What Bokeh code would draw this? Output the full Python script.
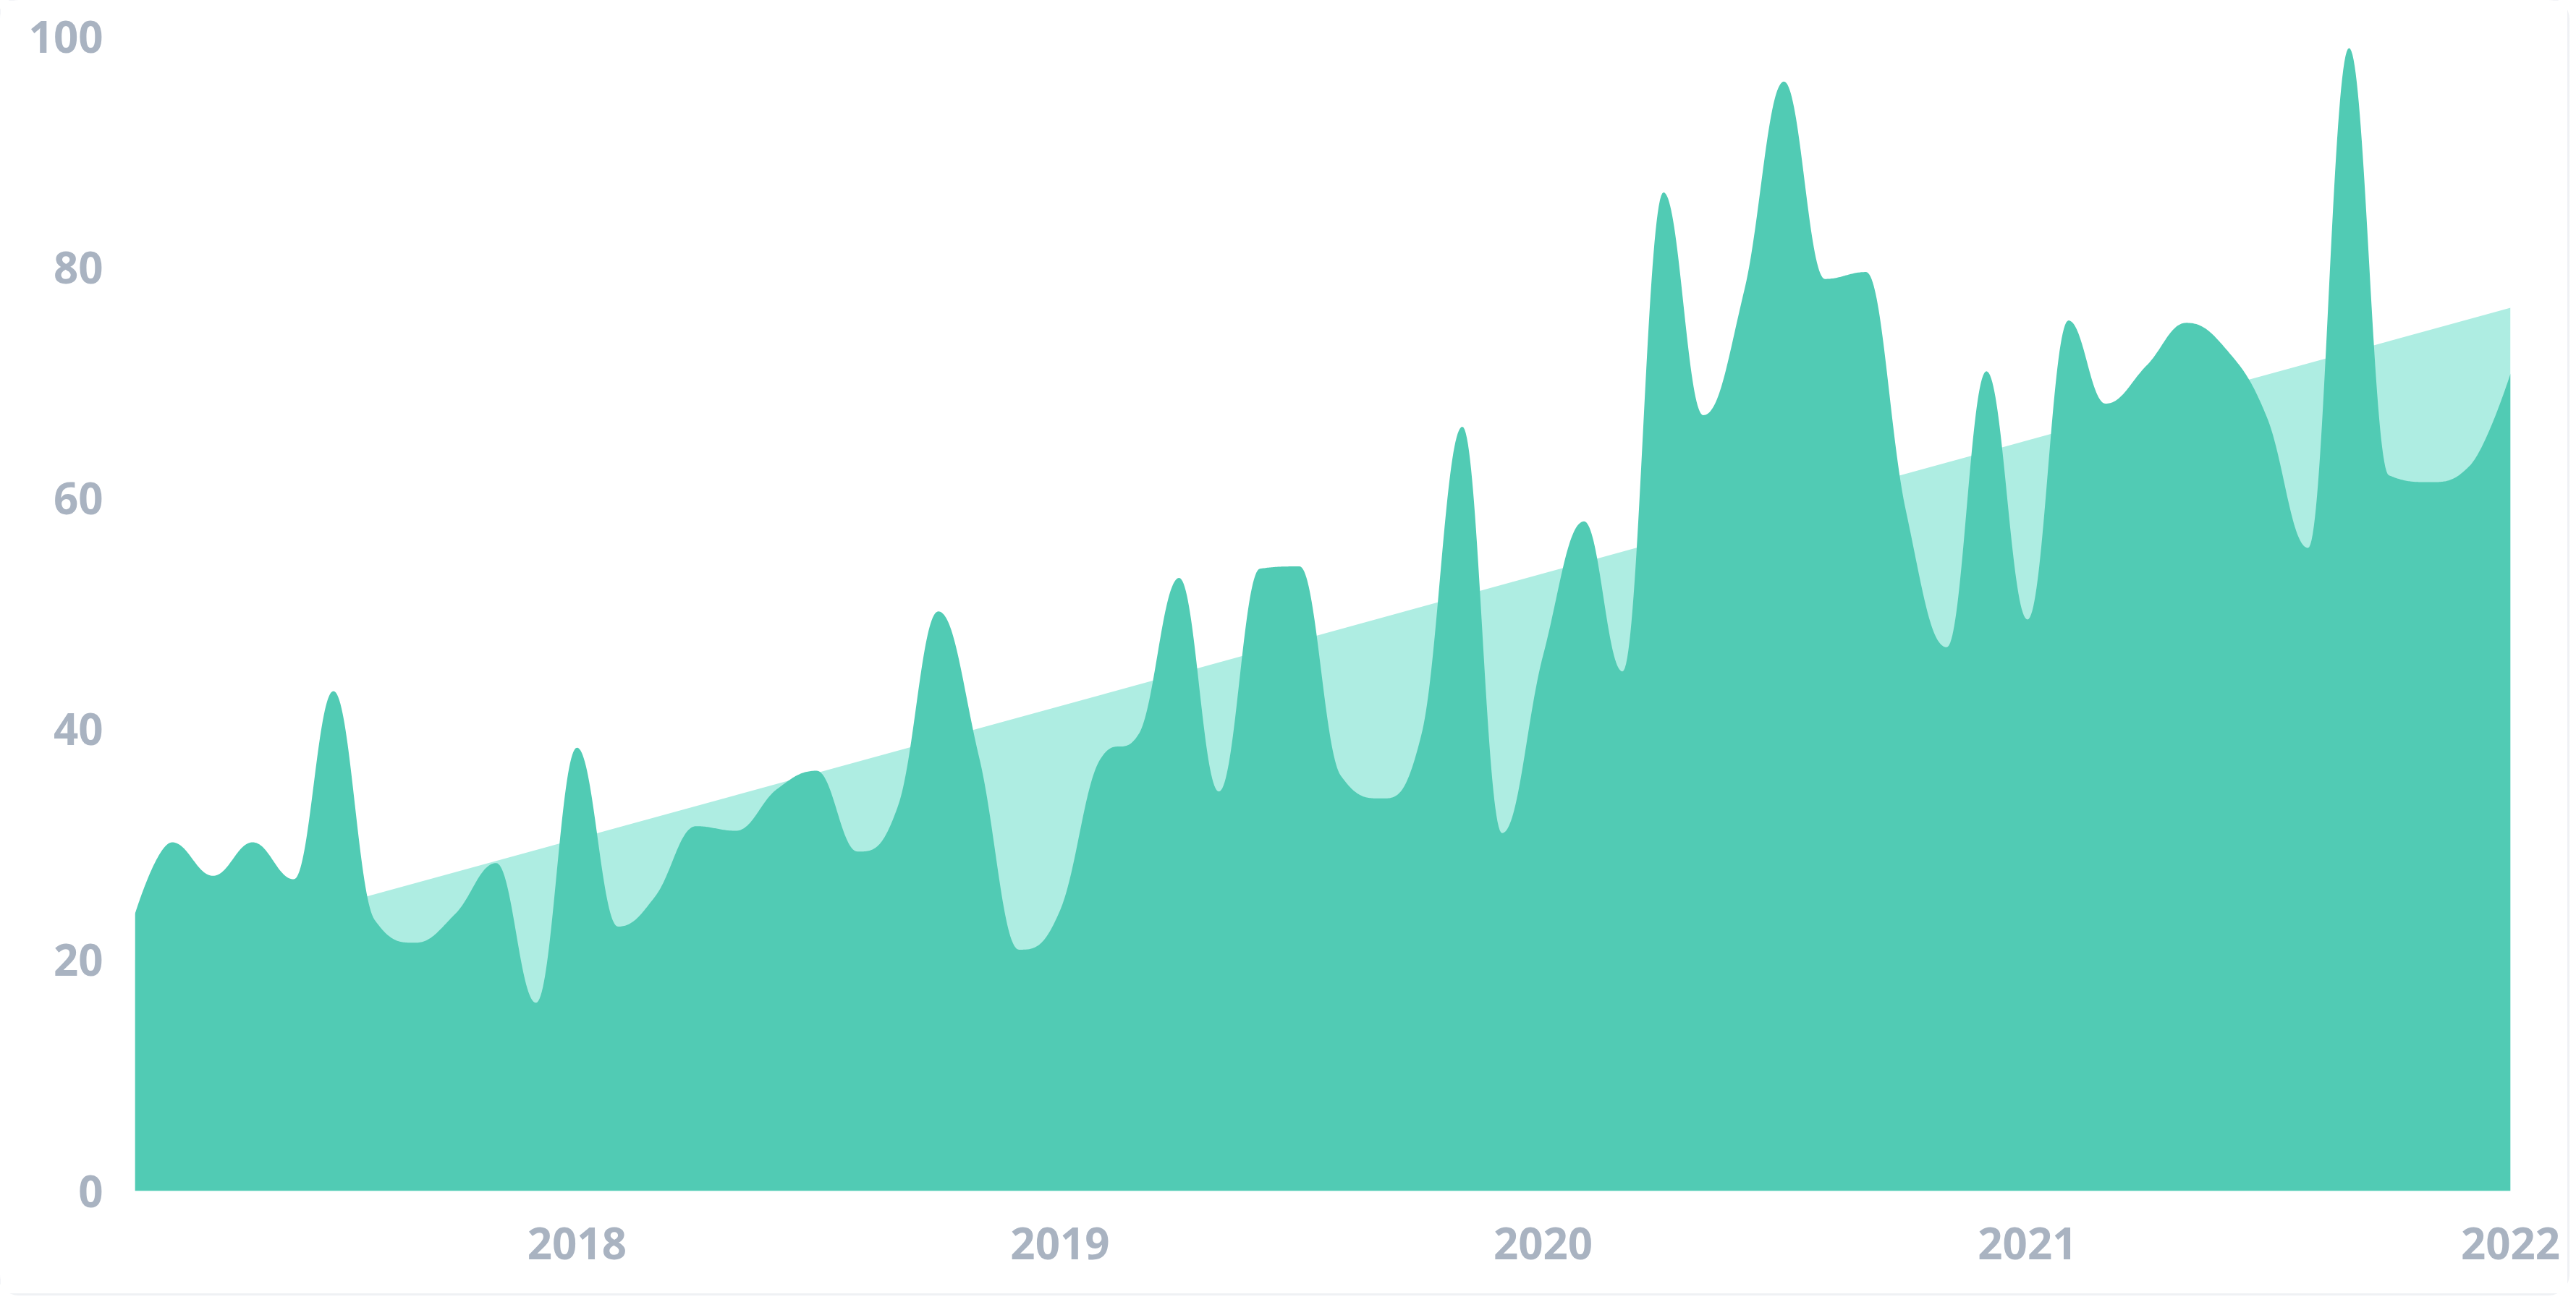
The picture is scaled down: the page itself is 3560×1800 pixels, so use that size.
import numpy as np
import pandas as pd
from bokeh.plotting import figure
from bokeh.models import Range1d, FixedTicker, DatetimeTickFormatter
from bokeh.embed import file_html
from bokeh.resources import INLINE

# ---------------- data ----------------
months = pd.date_range("2017-02-01", "2022-01-01", freq="MS")
values = [24.0, 30.2, 27.3, 30.2, 27.0, 43.3, 23.5, 21.5, 24.0, 28.4,
          16.3, 38.4, 22.9, 25.5, 31.6, 31.2, 34.8, 36.4, 29.4, 33.5,
          50.2, 37.5, 20.9, 24.3, 37.5, 39.5, 53.1, 34.6, 53.9, 54.1,
          36.0, 34.0, 39.5, 66.2, 31.0, 46.4, 58.0, 45.0, 86.5, 67.2,
          78.0, 96.1, 79.0, 79.6, 59.0, 47.1, 71.0, 49.5, 75.4, 68.2,
          71.5, 75.2, 72.8, 67.0, 55.7, 99.0, 62.0, 61.4, 62.8, 70.8]
trend_dates = ["2017-02-01", "2022-01-01"]
trend_values = [20.0, 76.5]
year_ticks = ["2018-01-01", "2019-01-01", "2020-01-01", "2021-01-01", "2022-01-01"]
y_ticks = [0, 20, 40, 60, 80, 100]

DARK = "#51CBB4"
LIGHT = "#AEEDE2"
LABEL = "#A9B3C1"


def to_ms(dates):
    return pd.to_datetime(dates).values.astype("datetime64[ms]").astype(np.int64).astype(float)


def spline_path(xs, ys, n=40):
    """Smooth spline (clamped Catmull-Rom style control points) used only for rendering."""
    xs = np.asarray(xs, float)
    ys = np.asarray(ys, float)
    m = len(xs)
    sm = 1.5
    den = sm + 1
    lc = [(xs[i], ys[i]) for i in range(m)]
    rc = [(xs[i], ys[i]) for i in range(m)]
    for i in range(1, m - 1):
        x, y = xs[i], ys[i]
        lx, ly, nx, ny = xs[i - 1], ys[i - 1], xs[i + 1], ys[i + 1]
        lcx = (sm * x + lx) / den
        lcy = (sm * y + ly) / den
        rcx = (sm * x + nx) / den
        rcy = (sm * y + ny) / den
        corr = (rcy - lcy) * (rcx - x) / (rcx - lcx) + y - rcy
        lcy += corr
        rcy += corr
        if lcy > ly and lcy > y:
            lcy = max(ly, y)
            rcy = 2 * y - lcy
        elif lcy < ly and lcy < y:
            lcy = min(ly, y)
            rcy = 2 * y - lcy
        if rcy > ny and rcy > y:
            rcy = max(ny, y)
            lcy = 2 * y - rcy
        elif rcy < ny and rcy < y:
            rcy = min(ny, y)
            lcy = 2 * y - rcy
        lc[i] = (lcx, lcy)
        rc[i] = (rcx, rcy)
    u = np.linspace(0, 1, n, endpoint=False)
    b0 = (1 - u) ** 3
    b1 = 3 * u * (1 - u) ** 2
    b2 = 3 * u ** 2 * (1 - u)
    b3 = u ** 3
    px, py = [], []
    for i in range(m - 1):
        c = [(xs[i], ys[i]), rc[i], lc[i + 1], (xs[i + 1], ys[i + 1])]
        px.extend(b0 * c[0][0] + b1 * c[1][0] + b2 * c[2][0] + b3 * c[3][0])
        py.extend(b0 * c[0][1] + b1 * c[1][1] + b2 * c[2][1] + b3 * c[3][1])
    px.append(xs[-1])
    py.append(ys[-1])
    return np.array(px), np.array(py)


x_ms = to_ms(months)
cx, cy = spline_path(x_ms, values)
tx = to_ms(trend_dates)

p = figure(
    width=3548, height=1788,
    x_axis_type="datetime",
    x_range=Range1d(x_ms[0], x_ms[-1]),
    y_range=Range1d(0, 100),
    output_backend="svg", toolbar_location=None,
    min_border_left=186, min_border_right=79, min_border_top=50, min_border_bottom=142,
)
p.styles = {"box-shadow": "0 0 0 3px #EFF1F4", "border-radius": "26px"}
p.background_fill_color = "white"
p.border_fill_color = "white"
p.outline_line_color = None
p.grid.grid_line_color = None

# trend area (light) behind the data area (dark)
p.varea(x=tx, y1=[0, 0], y2=trend_values, fill_color=LIGHT, fill_alpha=1.0)
p.varea(x=cx, y1=np.zeros_like(cy), y2=cy, fill_color=DARK, fill_alpha=1.0)

for ax in (p.xaxis[0], p.yaxis[0]):
    ax.axis_line_color = None
    ax.major_tick_line_color = None
    ax.minor_tick_line_color = None
    ax.major_tick_out = 0
    ax.major_tick_in = 0
    ax.major_label_text_color = LABEL
    ax.major_label_text_font = "Open Sans"
    ax.major_label_text_font_style = "bold"
    ax.major_label_text_font_size = "60px"

p.xaxis[0].ticker = FixedTicker(ticks=list(to_ms(year_ticks)))
p.xaxis[0].formatter = DatetimeTickFormatter(
    years="%Y", months="%Y", days="%Y", hours="%Y", minutes="%Y",
    seconds="%Y", milliseconds="%Y", microseconds="%Y",
)
p.xaxis[0].major_label_standoff = 50
p.yaxis[0].ticker = FixedTicker(ticks=y_ticks)
p.yaxis[0].major_label_standoff = 44

open("out.html", "w").write(file_html(p, INLINE))
